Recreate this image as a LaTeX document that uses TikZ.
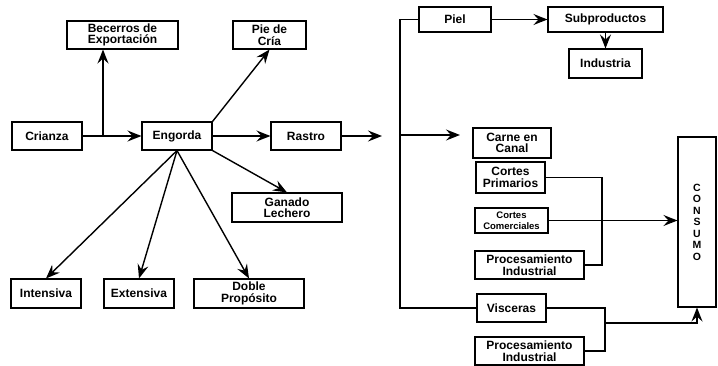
\documentclass[tikz,border=0pt]{standalone}
\usepackage{fontspec}
\setmainfont{Liberation Sans}
\usetikzlibrary{arrows.meta}
\tikzset{%
  every box/.style={
    draw,
    line width=1.1pt,
    inner sep=1pt,
    align=center,
    font=\fontsize{12}{11.5}\selectfont\bfseries
  },
  box small/.style={
    font=\fontsize{9.5}{10.5}\selectfont\bfseries
  },
  flow/.style={
    line width=1.4pt,
    -{Stealth[length=14pt,width=11pt,inset=5pt]}
  },
  link/.style={
    line width=1.3pt
  },
}

\begin{document}
\begin{tikzpicture}[x=1pt, y=-1pt]
        \useasboundingbox (0,0) rectangle (718,365);

        % left part
        \node [every box, minimum width=70pt, minimum height=28pt] (crianza) at (47,136) {Crianza};
        \node [every box, minimum width=70pt, minimum height=28pt] (engorda) at (177,136) {Engorda};
        \node [every box, minimum width=70pt, minimum height=28pt] (rastro) at (306,136) {Rastro};
        \node [every box, minimum width=111pt, minimum height=28pt] (becerros) at (122.5,35) {Becerros de\\Exportación};
        \node [every box, minimum width=73pt, minimum height=28pt] (pie) at (269.5,35) {Pie de\\Cría};
        \node [every box, minimum width=110pt, minimum height=29pt] (lechero) at (287,207.5) {Ganado\\Lechero};
        \node [every box, minimum width=70pt, minimum height=29pt] (intensiva) at (46,293.5) {Intensiva};
        \node [every box, minimum width=70pt, minimum height=29pt] (extensiva) at (139,293.5) {Extensiva};
        \node [every box, minimum width=110pt, minimum height=29pt] (doble) at (249,293.5) {Doble\\Propósito};

        \coordinate (split) at (103,136);
        \draw [flow] (crianza) -- (engorda);
        \draw [flow] (split) -- (split |- becerros.south);
        \draw [flow] (engorda) -- (rastro);
        \draw [flow] (engorda.north east) -- (pie.south);
        \draw [flow] (engorda.south east) -- (lechero.north);
        \foreach \t in {intensiva,extensiva,doble}
          \draw [flow] (engorda.south) -- (\t.north);

        % right part
        \node [every box, minimum width=72pt, minimum height=25pt] (piel) at (455,19.5) {Piel};
        \node [every box, minimum width=115pt, minimum height=25pt] (subprod) at (605.5,19.5) {Subproductos};
        \node [every box, minimum width=73pt, minimum height=29pt] (industria) at (605.5,63.5) {Industria};
        \node [every box, minimum width=78pt, minimum height=30pt] (canal) at (512,143) {Carne en\\Canal};
        \node [every box, minimum width=69pt, minimum height=31pt] (primarios) at (510.5,177.5) {Cortes\\Primarios};
        \node [every box, box small, minimum width=73pt, minimum height=25pt] (comerciales) at (511.5,220.5) {Cortes\\Comerciales};
        \node [every box, minimum width=109pt, minimum height=28pt] (procind-1) at (529.5,265) {Procesamiento\\Industrial};
        \node [every box, minimum width=69pt, minimum height=28pt] (visceras) at (511.5,308) {Visceras};
        \node [every box, minimum width=109pt, minimum height=28pt] (procind-2) at (529.5,351) {Procesamiento\\Industrial};
        \node [every box, minimum width=38pt, minimum height=170pt,
               font=\fontsize{10.5}{11.5}\selectfont\bfseries] (consumo) at (697,222) {C\\O\\N\\S\\U\\M\\O};

        \coordinate (out) at (382,136);
        \coordinate (trunk) at (400,135);
        \coordinate (tocanal) at (460,135);
        \coordinate (join-1) at (602,222);
        \coordinate (join-2) at (605,323);

        \draw [flow] (rastro) -- (out);
        \draw [link] (piel.west) -| (trunk) |- (visceras.west);
        \draw [flow] (trunk) -- (tocanal);
        \draw [flow] (piel) -- (subprod);
        \draw [flow] (subprod) -- (industria);
        \draw [link] (primarios.east) -| (join-1) |- (procind-1.east);
        \draw [flow] (comerciales.east) -- (comerciales.east -| consumo.west);
        \draw [link] (visceras.east) -| (join-2) |- (procind-2.east);
        \draw [flow] (join-2) -| (consumo.south);
\end{tikzpicture}
\end{document}
